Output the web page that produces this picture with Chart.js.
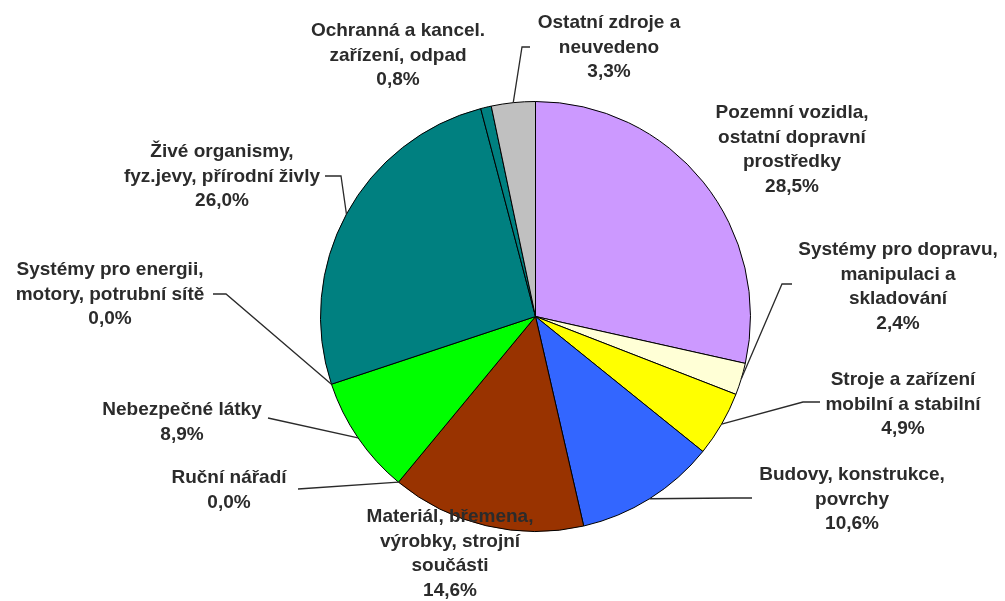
<!DOCTYPE html>
<html lang="cs">
<head>
<meta charset="utf-8">
<title>Zdroje úrazů</title>
<script src="https://cdn.jsdelivr.net/npm/chart.js@4/dist/chart.umd.min.js"></script>
<style>
  html, body { margin: 0; padding: 0; background: #ffffff; }
  #wrap { position: relative; width: 1005px; height: 601px; }
</style>
</head>
<body>
<div id="wrap"><canvas id="chart" width="1005" height="601"></canvas></div>
<script>
// Category names, one line per array entry
const categories = [
  ["Pozemní vozidla,", "ostatní dopravní", "prostředky"],
  ["Systémy pro dopravu,", "manipulaci a", "skladování"],
  ["Stroje a zařízení", "mobilní a stabilní"],
  ["Budovy, konstrukce,", "povrchy"],
  ["Materiál, břemena,", "výrobky, strojní", "součásti"],
  ["Ruční nářadí"],
  ["Nebezpečné látky"],
  ["Systémy pro energii,", "motory, potrubní sítě"],
  ["Živé organismy,", "fyz.jevy, přírodní živly"],
  ["Ochranná a kancel.", "zařízení, odpad"],
  ["Ostatní zdroje a", "neuvedeno"]
];

// Share of each source in percent
const shares = [28.5, 2.4, 4.9, 10.6, 14.6, 0.0, 8.9, 0.0, 26.0, 0.8, 3.3];

const sliceColors = [
  "#cc99ff", "#ffffd6", "#ffff00", "#3366ff", "#993300", "#993300",
  "#00ff00", "#00ff00", "#008080", "#008080", "#c0c0c0"
];

// Label placement: centre x, y of the first line, and leader-line elbows
// (the leader always ends at the middle of the slice's outer arc)
const labelLayout = [
  { x: 792, y: 113, leader: null },
  { x: 898, y: 250, leader: [[792, 284], [782, 284]] },
  { x: 903, y: 380, leader: [[820, 402], [803, 402]] },
  { x: 852, y: 475, leader: [[752, 498], [733, 498]] },
  { x: 450, y: 517, leader: null },
  { x: 229, y: 478, leader: [[298, 489]] },
  { x: 182, y: 410, leader: [[268, 418]] },
  { x: 110, y: 270, leader: [[213, 294], [226, 294]] },
  { x: 222, y: 152, leader: [[325, 176], [341, 176]] },
  { x: 398, y: 31,  leader: null },
  { x: 609, y: 23,  leader: [[530, 47], [522, 47]] }
];

const LINE_HEIGHT = 24.5;
const LABEL_FONT = "bold 19px 'Liberation Sans', Arial, sans-serif";

function formatShare(v) {
  return v.toFixed(1).replace(".", ",") + "%";
}

const pieLabels = {
  id: "pieLabels",
  afterDatasetsDraw(chart) {
    const ctx = chart.ctx;
    const meta = chart.getDatasetMeta(0);
    ctx.save();

    // leader lines
    ctx.strokeStyle = "#2a2a2a";
    ctx.lineWidth = 1.3;
    meta.data.forEach((arc, i) => {
      const lay = labelLayout[i];
      if (!lay.leader) return;
      const p = arc.getProps(["x", "y", "startAngle", "endAngle", "outerRadius"], true);
      const mid = (p.startAngle + p.endAngle) / 2;
      const ex = p.x + Math.cos(mid) * p.outerRadius;
      const ey = p.y + Math.sin(mid) * p.outerRadius;
      ctx.beginPath();
      ctx.moveTo(lay.leader[0][0], lay.leader[0][1]);
      for (let k = 1; k < lay.leader.length; k++) ctx.lineTo(lay.leader[k][0], lay.leader[k][1]);
      ctx.lineTo(ex, ey);
      ctx.stroke();
    });

    // label text
    ctx.font = LABEL_FONT;
    ctx.fillStyle = "#2b2b2b";
    ctx.textAlign = "center";
    ctx.textBaseline = "middle";
    categories.forEach((lines, i) => {
      const lay = labelLayout[i];
      const all = lines.concat([formatShare(shares[i])]);
      all.forEach((t, k) => ctx.fillText(t, lay.x, lay.y + k * LINE_HEIGHT));
    });
    ctx.restore();
  }
};

new Chart(document.getElementById("chart"), {
  type: "pie",
  data: {
    labels: categories.map(l => l.join(" ")),
    datasets: [{
      data: shares,
      backgroundColor: sliceColors,
      borderColor: "#000000",
      borderWidth: 1
    }]
  },
  options: {
    responsive: false,
    animation: false,
    layout: { padding: { top: 101, bottom: 69, left: 320, right: 254 } },
    plugins: {
      legend: { display: false },
      tooltip: { enabled: false }
    }
  },
  plugins: [pieLabels]
});
</script>
</body>
</html>
